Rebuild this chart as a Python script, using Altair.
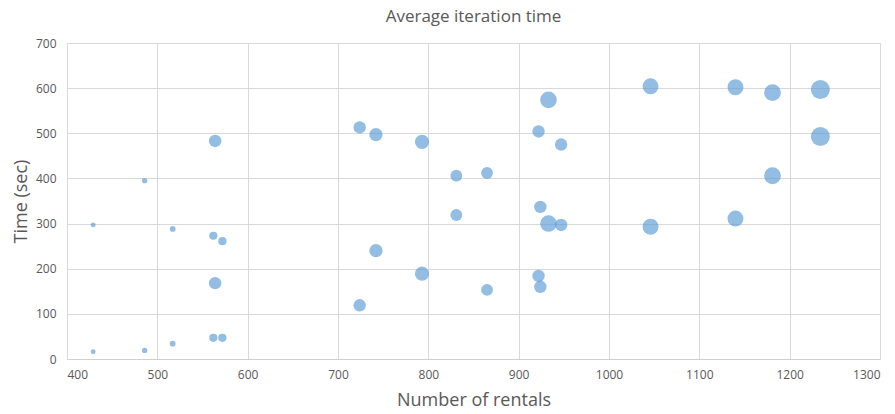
import altair as alt
import pandas as pd

rentals = [429, 429, 486, 486, 517, 517, 562, 572, 564, 564, 562, 572,
           724, 742, 793, 742, 793, 724, 831, 865, 831, 865,
           933, 922, 947, 924, 933, 947, 922, 924,
           1046, 1046, 1140, 1140, 1181, 1181, 1234, 1234]
times = [16, 297, 395, 19, 288, 34, 273, 261, 483, 168, 47, 47,
         513, 497, 481, 240, 189, 119, 406, 412, 319, 153,
         574, 504, 475, 337, 300, 297, 184, 160,
         604, 293, 602, 311, 590, 406, 597, 493]
bubble = [30, 30, 36, 36, 42, 42, 86, 86, 196, 196, 86, 86,
          196, 225, 256, 225, 256, 196, 177, 177, 177, 177,
          350, 196, 196, 196, 350, 196, 196, 196,
          324, 324, 324, 324, 361, 361, 454, 454]

df = pd.DataFrame({"rentals": rentals, "time": times, "bubble": bubble})

FONT = "Open Sans"
GREY = "#595959"

chart = alt.Chart(df).mark_circle(
    color="#5B9BD5", opacity=0.66, stroke=None
).encode(
    x=alt.X("rentals:Q", title="Number of rentals",
            scale=alt.Scale(domain=[400, 1300], nice=False, zero=False),
            axis=alt.Axis(values=list(range(400, 1301, 100)), format="d",
                          labelFontSize=12, labelColor=GREY, titleFontSize=18,
                          titleColor=GREY, titleFontWeight="normal",
                          labelPadding=10, titlePadding=11,
                          ticks=False, domainColor="#d0d0d0", gridColor="#d9d9d9",
                          labelFont=FONT, titleFont=FONT)),
    y=alt.Y("time:Q", title="Time (sec)",
            scale=alt.Scale(domain=[0, 700], nice=False),
            axis=alt.Axis(values=list(range(0, 701, 100)), format="d",
                          labelFontSize=12, labelColor=GREY, titleFontSize=18,
                          titleColor=GREY, titleFontWeight="normal",
                          labelPadding=11, titlePadding=5,
                          ticks=False, domainColor="#d9d9d9", gridColor="#d9d9d9",
                          labelFont=FONT, titleFont=FONT)),
    size=alt.Size("bubble:Q", legend=None,
                  scale=alt.Scale(domain=[0, 454], range=[0, 357], zero=True)),
).properties(
    width=813, height=316,
    title=alt.TitleParams("Average iteration time", fontSize=17, color=GREY,
                          fontWeight="normal", font=FONT, offset=11),
    autosize=alt.AutoSizeParams(type="none"),
    padding={"left": 67, "top": 43, "right": 15, "bottom": 55},
).configure_view(
    stroke="#d9d9d9"
)

chart.save("out.html", embed_options={"renderer": "svg", "actions": False})
